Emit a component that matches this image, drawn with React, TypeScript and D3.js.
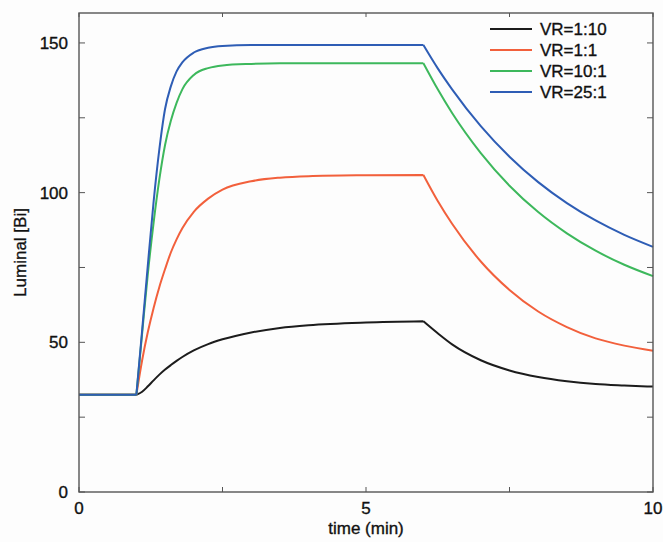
import React from "react";
import * as d3 from "d3";

const times = [0, 1, 1.1, 1.2, 1.3, 1.4, 1.5, 1.6, 1.7, 1.8, 2.0, 2.25, 2.5, 3.0, 3.5, 4.0, 5.0, 6.0, 6.25, 6.5, 7.0, 7.5, 8.0, 8.5, 9.0, 9.5, 10];

const vr1_10 = [32.5, 32.5, 33.5, 35.3, 37.3, 39.2, 40.9, 42.4, 43.8, 45.1, 47.3, 49.4, 51.0, 53.3, 54.8, 55.7, 56.6, 57.0, 53.0, 49.3, 44.0, 40.6, 38.4, 37.0, 36.1, 35.6, 35.2];
const vr1_1 = [32.5, 32.5, 44, 53.5, 61.5, 68.5, 74.5, 80, 84.4, 88.1, 93.6, 98, 101, 103.8, 105, 105.5, 105.8, 105.9, 97.2, 89.6, 77.0, 67.5, 60.3, 55.1, 51.3, 48.9, 47.2];
const vr10_1 = [32.5, 32.5, 53, 73, 90, 104.5, 116, 124, 130, 134.5, 139.3, 141.6, 142.5, 143.0, 143.2, 143.2, 143.2, 143.2, 134.5, 126.6, 113.2, 102.3, 93.5, 86.4, 80.6, 75.9, 72.1];
const vr25_1 = [32.5, 32.5, 54, 76, 97, 114.5, 128, 135.5, 140.5, 143.5, 146.8, 148.4, 149.0, 149.3, 149.3, 149.3, 149.3, 149.3, 141.5, 134.5, 122.2, 112.0, 103.5, 96.5, 90.7, 85.9, 81.9];

const seriesNames = ["VR=1:10", "VR=1:1", "VR=10:1", "VR=25:1"];
const seriesValues = [vr1_10, vr1_1, vr10_1, vr25_1];
const seriesColors = ["#1c1c1c", "#f2603c", "#3db85c", "#2e5db5"];

const xTickValues = [0, 5, 10];
const xMinorTicks = [0, 2.5, 5, 7.5, 10];
const yTickValues = [0, 50, 100, 150];
const yMinorTicks = [0, 25, 50, 75, 100, 125, 150];
const phaseBreaks = [1, 6];

export default function App() {
  const W = 663, H = 542;
  const left = 79, right = 653, top = 13, bottom = 492;
  const x = d3.scaleLinear().domain([0, 10]).range([left, right]);
  const y = d3.scaleLinear().domain([0, 160]).range([bottom, top]);
  const font = "Liberation Sans, Arial, Helvetica, sans-serif";
  const fs = 17;
  const textProps = { fontFamily: font, fontSize: fs, fill: "#111", stroke: "#111", strokeWidth: 0.35 };

  const line = d3
    .line<[number, number]>()
    .x((d) => x(d[0]))
    .y((d) => y(d[1]))
    .curve(d3.curveMonotoneX);

  const pathFor = (vals: number[]) => {
    const pts: [number, number][] = times.map((t, i) => [t, vals[i]]);
    const b0 = phaseBreaks[0], b1 = phaseBreaks[1];
    const segs = [
      pts.filter((p) => p[0] <= b0),
      pts.filter((p) => p[0] >= b0 && p[0] <= b1),
      pts.filter((p) => p[0] >= b1),
    ];
    return segs.map((s) => line(s) || "").join("");
  };

  const tickColor = "#555";

  return (
    <svg width={W} height={H} style={{ position: "absolute", left: 0, top: 0 }}>
      <rect x={0} y={0} width={W} height={H} fill="#fdfdfd" />
      {xMinorTicks.map((t) => (
        <g key={"xt" + t}>
          <line x1={x(t)} x2={x(t)} y1={bottom} y2={bottom - 5} stroke={tickColor} strokeWidth={1} />
          <line x1={x(t)} x2={x(t)} y1={top} y2={top + 4} stroke={tickColor} strokeWidth={1} />
        </g>
      ))}
      {yMinorTicks.map((v) => (
        <g key={"yt" + v}>
          <line x1={left} x2={left + 6} y1={y(v)} y2={y(v)} stroke={tickColor} strokeWidth={1} />
          <line x1={right} x2={right - 6} y1={y(v)} y2={y(v)} stroke={tickColor} strokeWidth={1} />
        </g>
      ))}
      {seriesValues.map((vals, i) => (
        <path key={seriesNames[i]} d={pathFor(vals)} fill="none" stroke={seriesColors[i]} strokeWidth={2} strokeLinejoin="round" />
      ))}
      <rect x={left} y={top} width={right - left} height={bottom - top} fill="none" stroke="#555" strokeWidth={1.4} />
      {xTickValues.map((t) => (
        <text key={"xl" + t} x={x(t)} y={bottom + 22} textAnchor="middle" {...textProps}>
          {t}
        </text>
      ))}
      {yTickValues.map((v) => (
        <text key={"yl" + v} x={left - 11} y={y(v) + 6} textAnchor="end" {...textProps}>
          {v}
        </text>
      ))}
      <text x={(left + right) / 2} y={bottom + 42} textAnchor="middle" {...textProps}>
        time (min)
      </text>
      <text transform={`translate(26, ${(top + bottom) / 2}) rotate(-90)`} textAnchor="middle" {...textProps}>
        Luminal [Bi]
      </text>
      {seriesNames.map((n, i) => {
        const ly = 29 + i * 21;
        return (
          <g key={"lg" + n}>
            <line x1={490} x2={532} y1={ly} y2={ly} stroke={seriesColors[i]} strokeWidth={2} />
            <text x={540} y={ly + 6} {...textProps}>
              {n}
            </text>
          </g>
        );
      })}
    </svg>
  );
}
